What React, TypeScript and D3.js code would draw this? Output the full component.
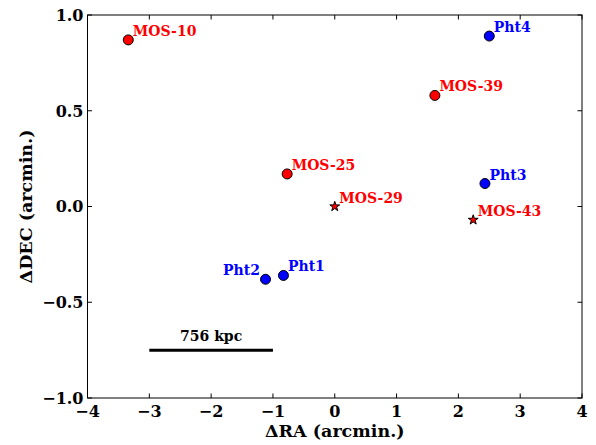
import React, { useEffect, useRef } from 'react';
import * as d3 from 'd3';

// source positions, offsets from cluster centre in arcmin
const names = ['MOS-10', 'MOS-25', 'MOS-29', 'MOS-39', 'MOS-43', 'Pht1', 'Pht2', 'Pht3', 'Pht4'];
const deltaRA = [-3.34, -0.77, 0.0, 1.62, 2.24, -0.83, -1.12, 2.43, 2.5];
const deltaDEC = [0.87, 0.17, 0.0, 0.58, -0.07, -0.36, -0.38, 0.12, 0.89];
const markers = ['circle', 'circle', 'star', 'circle', 'star', 'circle', 'circle', 'circle', 'circle'];
const groups = ['mos', 'mos', 'mos', 'mos', 'mos', 'pht', 'pht', 'pht', 'pht'];
const labelSide = ['right', 'right', 'right', 'right', 'right', 'right', 'left', 'right', 'right'];

const xTicks = [-4, -3, -2, -1, 0, 1, 2, 3, 4];
const yTicks = [-1.0, -0.5, 0.0, 0.5, 1.0];

// scale bar
const barRA = [-3, -1];
const barDEC = -0.75;
const barLabel = '756 kpc';

const colors: Record<string, string> = { mos: '#ff0000', pht: '#0000ff' };
const serif = '"DejaVu Serif", serif';

export default function App() {
  const svgRef = useRef<SVGSVGElement>(null);
  const width = 596;
  const height = 445;

  useEffect(() => {
    if (!svgRef.current) return;
    d3.select(svgRef.current).selectAll('*').remove();

    const margin = { left: 87.5, right: 14, top: 15, bottom: 47 };
    const innerW = width - margin.left - margin.right;
    const innerH = height - margin.top - margin.bottom;

    const svg = d3.select(svgRef.current)
      .append('g')
      .attr('transform', `translate(${margin.left},${margin.top})`);

    const x = d3.scaleLinear().domain([-4, 4]).range([0, innerW]);
    const y = d3.scaleLinear().domain([-1, 1]).range([innerH, 0]);

    // inward ticks on all four sides
    const tickLen = 4.5;
    const ticks = svg.append('g').attr('stroke', '#000').attr('stroke-width', 1);
    xTicks.forEach(t => {
      ticks.append('line').attr('x1', x(t)).attr('x2', x(t)).attr('y1', innerH).attr('y2', innerH - tickLen);
      ticks.append('line').attr('x1', x(t)).attr('x2', x(t)).attr('y1', 0).attr('y2', tickLen);
    });
    yTicks.forEach(t => {
      ticks.append('line').attr('x1', 0).attr('x2', tickLen).attr('y1', y(t)).attr('y2', y(t));
      ticks.append('line').attr('x1', innerW).attr('x2', innerW - tickLen).attr('y1', y(t)).attr('y2', y(t));
    });

    // frame
    svg.append('rect')
      .attr('width', innerW)
      .attr('height', innerH)
      .attr('fill', 'none')
      .attr('stroke', '#000')
      .attr('stroke-width', 1);

    // tick labels
    svg.append('g').selectAll('text')
      .data(xTicks)
      .enter()
      .append('text')
      .attr('x', d => x(d))
      .attr('y', innerH + 19)
      .attr('text-anchor', 'middle')
      .style('font-family', serif)
      .style('font-weight', 'bold')
      .style('font-size', '16px')
      .text(d => (d < 0 ? '\u2212' + Math.abs(d) : String(d)));

    svg.append('g').selectAll('text')
      .data(yTicks)
      .enter()
      .append('text')
      .attr('x', -4)
      .attr('y', d => y(d))
      .attr('dy', '0.36em')
      .attr('text-anchor', 'end')
      .style('font-family', serif)
      .style('font-weight', 'bold')
      .style('font-size', '16px')
      .text(d => (d < 0 ? '\u2212' + Math.abs(d).toFixed(1) : d.toFixed(1)));

    // axis labels
    svg.append('text')
      .attr('x', innerW / 2)
      .attr('y', innerH + 39)
      .attr('text-anchor', 'middle')
      .style('font-family', serif)
      .style('font-weight', 'bold')
      .style('font-size', '17.5px')
      .text('\u0394RA (arcmin.)');

    svg.append('text')
      .attr('transform', 'rotate(-90)')
      .attr('x', -innerH / 2)
      .attr('y', -55.5)
      .attr('text-anchor', 'middle')
      .style('font-family', serif)
      .style('font-weight', 'bold')
      .style('font-size', '17.5px')
      .text('\u0394DEC (arcmin.)');

    // scale bar
    svg.append('line')
      .attr('x1', x(barRA[0]))
      .attr('x2', x(barRA[1]))
      .attr('y1', y(barDEC))
      .attr('y2', y(barDEC))
      .attr('stroke', '#000')
      .attr('stroke-width', 3);

    svg.append('text')
      .attr('x', x((barRA[0] + barRA[1]) / 2))
      .attr('y', y(barDEC) - 9)
      .attr('text-anchor', 'middle')
      .style('font-family', serif)
      .style('font-weight', 'bold')
      .style('font-size', '14px')
      .text(barLabel);

    // sources
    const data = names.map((name, i) => ({
      name,
      ra: deltaRA[i],
      dec: deltaDEC[i],
      marker: markers[i],
      group: groups[i],
      side: labelSide[i],
    }));

    const star = d3.symbol().type(d3.symbolStar).size(30);

    data.forEach(d => {
      if (d.marker === 'star') {
        svg.append('path')
          .attr('d', star()!)
          .attr('transform', `translate(${x(d.ra)},${y(d.dec)})`)
          .attr('fill', colors[d.group])
          .attr('stroke', '#000')
          .attr('stroke-width', 1);
      } else {
        svg.append('circle')
          .attr('cx', x(d.ra))
          .attr('cy', y(d.dec))
          .attr('r', 5)
          .attr('fill', colors[d.group])
          .attr('stroke', '#000')
          .attr('stroke-width', 1);
      }

      svg.append('text')
        .attr('x', x(d.ra) + (d.side === 'left' ? -5.5 : 4.5))
        .attr('y', y(d.dec) - 4)
        .attr('text-anchor', d.side === 'left' ? 'end' : 'start')
        .attr('fill', colors[d.group])
        .style('font-family', serif)
        .style('font-weight', 'bold')
        .style('font-size', '14px')
        .text(d.name);
    });
  }, []);

  return (
    <svg
      ref={svgRef}
      width={width}
      height={height}
      style={{ position: 'absolute', left: 0, top: 0, background: '#fff' }}
    />
  );
}
